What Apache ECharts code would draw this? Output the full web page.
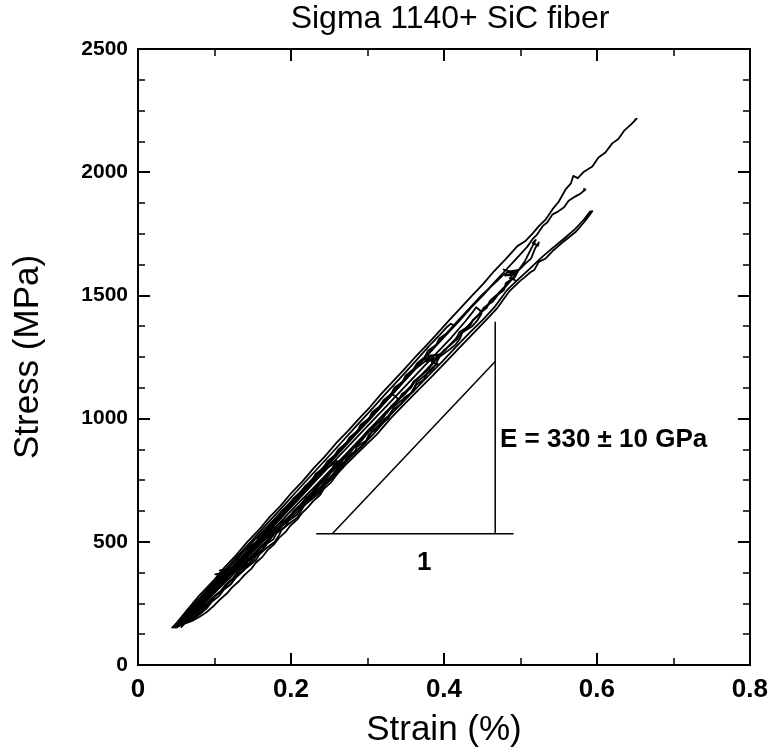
<!DOCTYPE html>
<html><head><meta charset="utf-8">
<script src="https://cdn.jsdelivr.net/npm/echarts@6/dist/echarts.min.js"></script>
<style>html,body{margin:0;padding:0;background:#fff}#c{width:771px;height:753px}</style>
</head><body><div id="c"></div>
<script>
// ---- data (strain %, stress MPa) ----
const xTickValues = [0, 0.2, 0.4, 0.6, 0.8];
const yTickValues = [0, 500, 1000, 1500, 2000, 2500];

const curveA = [[0.046,152],[0.050,168],[0.062,215],[0.080,282],[0.098,340],[0.112,392],[0.128,445],[0.143,500],[0.158,548],[0.172,600],[0.186,645],[0.201,700],[0.215,745],[0.230,800],[0.244,846],[0.259,900],[0.274,948],[0.289,1000],[0.303,1046],[0.318,1100],[0.333,1150],[0.348,1200],[0.362,1248],[0.378,1300],[0.392,1348],[0.407,1400],[0.421,1446],[0.437,1500],[0.451,1546],[0.466,1600],[0.481,1648],[0.496,1700],[0.507,1722],[0.516,1752],[0.524,1781],[0.533,1808],[0.542,1850],[0.550,1880],[0.559,1930],[0.566,1955],[0.569,1985],[0.575,1976],[0.583,2002],[0.594,2023],[0.602,2060],[0.611,2080],[0.620,2117],[0.628,2135],[0.636,2170],[0.645,2195],[0.652,2217],[0.649,2213]];

const curveB = [[0.048,150],[0.056,178],[0.072,230],[0.090,292],[0.108,352],[0.124,402],[0.140,455],[0.156,500],[0.171,552],[0.186,600],[0.200,650],[0.215,700],[0.230,748],[0.244,800],[0.259,850],[0.274,900],[0.288,950],[0.303,1000],[0.318,1052],[0.333,1100],[0.347,1150],[0.362,1200],[0.377,1252],[0.391,1300],[0.406,1350],[0.421,1400],[0.436,1452],[0.451,1500],[0.465,1550],[0.480,1600],[0.495,1650],[0.509,1698],[0.516,1729],[0.522,1748],[0.529,1781],[0.535,1796],[0.542,1829],[0.549,1840],[0.557,1858],[0.563,1884],[0.572,1902],[0.578,1912],[0.585,1930],[0.582,1932]];

const curveC = [[0.050,150],[0.060,180],[0.075,225],[0.092,280],[0.110,335],[0.128,385],[0.147,440],[0.165,495],[0.183,548],[0.201,600],[0.219,655],[0.238,710],[0.256,765],[0.274,820],[0.293,878],[0.312,935],[0.330,1000],[0.348,1058],[0.366,1115],[0.384,1170],[0.402,1228],[0.420,1287],[0.438,1345],[0.455,1400],[0.469,1446],[0.485,1515],[0.500,1560],[0.505,1572],[0.513,1594],[0.518,1603],[0.524,1636],[0.533,1650],[0.542,1680],[0.557,1720],[0.572,1757],[0.584,1800],[0.594,1842],
  [0.591,1840],[0.583,1808],[0.571,1768],[0.556,1728],[0.541,1690],[0.527,1652],[0.512,1608],[0.497,1565],[0.482,1520],[0.466,1452],[0.452,1405],[0.434,1350],[0.416,1292],[0.398,1232],[0.380,1175],[0.362,1118],[0.344,1060],[0.326,1002],[0.308,938],[0.290,880],[0.271,822],[0.253,768],[0.235,712],[0.216,655],[0.197,602],[0.180,550],[0.162,498],[0.144,442],[0.125,388],[0.107,338],[0.089,283],[0.072,230],[0.057,182],[0.048,155]];

const curveD = [[0.056,152],[0.072,205],[0.094,280],[0.118,360],[0.140,430],[0.163,505],[0.186,580],[0.209,655],[0.233,730],[0.256,805],[0.280,882],[0.303,958],[0.326,1032],[0.350,1110],[0.373,1185],[0.396,1262],[0.420,1338],[0.443,1415],[0.466,1492],[0.490,1570],[0.506,1640],[0.514,1690],[0.520,1725],[0.516,1712],[0.523,1702],
  [0.524,1715],[0.519,1690],[0.514,1650],[0.505,1625],[0.497,1600],[0.493,1575],[0.481,1550],[0.478,1520],[0.468,1500],[0.460,1478],[0.456,1450],[0.447,1428],[0.438,1400],[0.434,1375],[0.423,1350],[0.418,1325],[0.409,1300],[0.400,1278],[0.394,1250],[0.386,1228],[0.380,1200],[0.370,1175],[0.362,1150],[0.357,1125],[0.345,1100],[0.341,1075],[0.332,1050],[0.324,1027],[0.316,1000],[0.309,975],[0.301,950],[0.296,925],[0.286,900],[0.278,876],[0.272,850],[0.264,825],[0.257,800],[0.248,776],[0.242,750],[0.234,725],[0.228,700],[0.219,676],[0.213,650],[0.204,626],[0.198,600],[0.188,578],[0.184,550],[0.174,526],[0.168,500],[0.160,476],[0.154,450],[0.145,426],[0.139,400],[0.130,376],[0.124,350],[0.116,325],[0.110,300],[0.100,278],[0.094,250],[0.086,226],[0.078,200],[0.068,180],[0.058,165],[0.050,158]];

const curveE = [[0.050,155],[0.066,200],[0.096,300],[0.125,400],[0.155,500],[0.184,600],[0.213,700],[0.243,800],[0.272,900],[0.302,1000],[0.331,1100],[0.360,1200],[0.390,1300],[0.419,1400],[0.449,1500],[0.470,1560],[0.478,1585],[0.486,1598],[0.478,1605],[0.492,1592],[0.480,1580],[0.494,1585],[0.483,1596],[0.496,1603],[0.486,1570],[0.493,1562],
  [0.490,1570],[0.484,1548],[0.478,1525],[0.470,1500],[0.464,1475],[0.452,1450],[0.448,1425],[0.438,1400],[0.432,1375],[0.420,1350],[0.416,1325],[0.408,1300],[0.400,1275],[0.390,1250],[0.386,1225],[0.378,1200],[0.370,1175],[0.360,1150],[0.356,1125],[0.349,1100],[0.340,1075],[0.331,1050],[0.326,1025],[0.316,1000],[0.309,975],[0.300,950],[0.294,925],[0.286,900],[0.278,875],[0.272,850],[0.264,825],[0.257,800],[0.248,775],[0.242,750],[0.234,725],[0.227,700],[0.220,675],[0.212,650],[0.204,625],[0.198,600],[0.190,575],[0.183,550],[0.174,525],[0.168,500],[0.159,475],[0.154,450],[0.145,425],[0.139,400],[0.130,375],[0.124,350],[0.114,325],[0.108,300],[0.098,275],[0.090,250],[0.082,225],[0.074,200],[0.064,180],[0.054,165],[0.048,158]];

const curveF = [[0.053,156],[0.070,205],[0.098,300],[0.127,400],[0.157,500],[0.186,600],[0.215,700],[0.245,800],[0.274,900],[0.304,1000],[0.333,1100],[0.362,1200],[0.375,1232],[0.382,1252],[0.374,1240],[0.389,1246],[0.377,1232],[0.391,1240],[0.380,1255],[0.393,1260],[0.384,1228],[0.392,1222],
  [0.386,1210],[0.378,1185],[0.374,1160],[0.363,1135],[0.360,1110],[0.348,1085],[0.344,1060],[0.333,1035],[0.327,1010],[0.317,985],[0.313,960],[0.302,935],[0.298,910],[0.286,885],[0.283,860],[0.272,835],[0.268,810],[0.257,785],[0.253,760],[0.242,735],[0.238,710],[0.228,685],[0.222,660],[0.212,635],[0.208,610],[0.197,585],[0.192,560],[0.181,535],[0.177,510],[0.165,485],[0.161,460],[0.150,435],[0.145,410],[0.134,385],[0.129,360],[0.118,335],[0.113,310],[0.102,285],[0.097,260],[0.087,235],[0.080,210],[0.071,190],[0.063,175],[0.055,165],[0.049,157]];

const curveG = [[0.051,154],[0.072,210],[0.101,305],[0.130,405],[0.159,500],[0.188,600],[0.218,700],[0.247,800],[0.255,815],[0.263,808],[0.252,822],[0.266,815],[0.255,805],[0.268,812],[0.258,828],[0.270,822],[0.259,800],[0.266,796],
  [0.264,790],[0.258,765],[0.252,740],[0.243,715],[0.238,690],[0.229,665],[0.222,640],[0.214,615],[0.208,590],[0.199,565],[0.193,540],[0.184,515],[0.178,490],[0.169,465],[0.163,440],[0.154,415],[0.148,390],[0.139,365],[0.132,340],[0.123,315],[0.116,290],[0.107,265],[0.099,240],[0.090,215],[0.080,195],[0.070,178],[0.058,165],[0.050,158]];

const curveH = [[0.052,155],[0.074,210],[0.102,300],[0.131,400],[0.160,500],[0.168,530],[0.174,548],[0.163,540],[0.178,556],[0.166,535],[0.180,545],[0.168,556],[0.181,562],[0.170,530],[0.177,526],
  [0.178,530],[0.171,505],[0.166,480],[0.157,455],[0.152,430],[0.143,405],[0.137,380],[0.128,355],[0.122,330],[0.112,305],[0.106,280],[0.096,255],[0.090,230],[0.080,205],[0.070,185],[0.060,170],[0.051,160]];

const curveI = [[0.046,150],[0.060,195],[0.080,260],[0.100,330],[0.106,355],[0.112,372],[0.101,368],[0.116,378],[0.104,360],[0.119,370],[0.107,384],[0.118,390],[0.103,352],[0.114,358],
  [0.114,350],[0.107,330],[0.101,305],[0.093,285],[0.087,262],[0.079,240],[0.072,218],[0.064,196],[0.057,176],[0.050,162]];

const curveJ = [[0.049,153],[0.068,205],[0.094,290],[0.121,380],[0.150,475],[0.178,570],[0.206,662],[0.236,760],[0.265,855],[0.294,950],[0.323,1045],[0.352,1140],[0.381,1235],[0.410,1330],[0.428,1395],[0.437,1430],[0.442,1452],[0.447,1440],
  [0.449,1425],[0.444,1400],[0.437,1375],[0.424,1350],[0.421,1325],[0.415,1300],[0.405,1275],[0.394,1250],[0.390,1225],[0.385,1200],[0.375,1175],[0.365,1150],[0.361,1125],[0.356,1100],[0.345,1075],[0.335,1050],[0.331,1025],[0.327,1000],[0.316,975],[0.306,950],[0.302,925],[0.297,900],[0.287,875],[0.276,850],[0.272,825],[0.268,800],[0.257,775],[0.247,750],[0.243,725],[0.238,700],[0.228,675],[0.218,650],[0.213,625],[0.209,600],[0.198,575],[0.188,550],[0.184,525],[0.179,500],[0.168,475],[0.159,450],[0.154,425],[0.144,400],[0.134,375],[0.126,350],[0.120,325],[0.109,300],[0.099,275],[0.090,250],[0.080,225],[0.070,200],[0.060,180],[0.051,160]];

const curveK = [[0.044,150],[0.058,190],[0.080,265],[0.105,350],[0.132,440],[0.161,535],[0.189,628],[0.218,722],[0.246,815],[0.274,908],[0.300,995],[0.318,1055],[0.326,1085],[0.331,1100],[0.336,1092],
  [0.340,1080],[0.335,1055],[0.326,1030],[0.321,1005],[0.313,980],[0.305,955],[0.297,930],[0.291,905],[0.282,880],[0.276,855],[0.267,830],[0.261,805],[0.252,780],[0.246,755],[0.237,730],[0.231,705],[0.222,680],[0.216,655],[0.207,630],[0.200,605],[0.191,580],[0.185,555],[0.176,530],[0.170,505],[0.160,480],[0.154,455],[0.144,430],[0.138,405],[0.128,380],[0.121,355],[0.112,330],[0.104,305],[0.095,280],[0.087,255],[0.078,230],[0.069,205],[0.060,182],[0.051,162]];

const curveL = [[0.045,152],[0.055,185],[0.071,240],[0.090,305],[0.109,370],[0.128,435],[0.148,502],[0.167,568],[0.187,635],[0.206,700],[0.226,768],[0.245,832],[0.265,900],[0.284,965],[0.304,1032],[0.323,1098],[0.343,1165],[0.362,1230],[0.381,1296],[0.396,1345],[0.404,1372],[0.409,1385],
  [0.413,1378],[0.405,1350],[0.394,1325],[0.390,1300],[0.379,1275],[0.375,1250],[0.365,1225],[0.360,1200],[0.350,1175],[0.346,1150],[0.335,1125],[0.331,1100],[0.321,1075],[0.316,1050],[0.306,1025],[0.302,1000],[0.291,975],[0.287,950],[0.277,925],[0.272,900],[0.262,875],[0.257,850],[0.247,825],[0.243,800],[0.232,775],[0.228,750],[0.218,725],[0.213,700],[0.203,675],[0.199,650],[0.188,625],[0.184,600],[0.174,575],[0.169,550],[0.159,525],[0.155,500],[0.144,475],[0.140,450],[0.130,425],[0.125,400],[0.115,375],[0.110,350],[0.100,325],[0.096,300],[0.086,275],[0.081,250],[0.072,225],[0.066,200],[0.057,178],[0.050,160]];

// slope triangle (modulus annotation)
const triBase = [[0.233,533],[0.491,533]];
const triSide = [[0.467,533],[0.467,1393]];
const triHyp  = [[0.254,533],[0.467,1232]];

const curves = [curveA, curveB, curveC, curveD, curveE, curveF, curveG, curveH, curveI, curveJ, curveK, curveL];

const FONT = 'Liberation Sans, Arial, sans-serif';
const chart = echarts.init(document.getElementById('c'), null, {renderer:'canvas'});

function axisCommon(showLabel){
  return {
    type:'value',
    axisLine:{show:true, onZero:false, lineStyle:{color:'#000', width:2}},
    axisTick:{show:true, inside:true, length:12, lineStyle:{color:'#000', width:2}},
    splitLine:{show:false},
    axisLabel:{show:showLabel, color:'#000', fontWeight:'bold', fontSize:20, fontFamily:FONT},
  };
}

const series = curves.map(d => ({
  type:'line', data:d, showSymbol:false, symbol:'none',
  lineStyle:{color:'#000', width:1.8, join:'round'},
  animation:false, silent:true, clip:true
}));
[triBase, triSide, triHyp].forEach(d => series.push({
  type:'line', data:d, showSymbol:false, symbol:'none',
  lineStyle:{color:'#000', width:1.5}, animation:false, silent:true
}));

const option = {
  animation:false,
  backgroundColor:'#fff',
  title:{text:'Sigma 1140+ SiC fiber', left:445, top:-2, textAlign:'center',
    textStyle:{fontFamily:FONT, fontWeight:'normal', fontSize:32, color:'#000'}},
  grid:{left:138, right:14, top:49, bottom:85},
  xAxis:[
    Object.assign(axisCommon(true), {min:0, max:0.8, interval:0.2, position:'bottom',
      minorTick:{show:true, splitNumber:2, length:7, lineStyle:{color:'#000', width:1.5}},
      axisLabel:{color:'#000', fontWeight:'bold', fontSize:26, fontFamily:FONT, margin:12,
        formatter: v => xTickValues.includes(Math.round(v*10)/10) ? String(Math.round(v*10)/10) : ''},
      name:'Strain (%)', nameLocation:'middle', nameGap:48,
      nameTextStyle:{fontFamily:FONT, fontSize:35, color:'#000'}}),
    Object.assign(axisCommon(false), {min:0, max:0.8, interval:0.2, position:'top',
      minorTick:{show:true, splitNumber:2, length:7, lineStyle:{color:'#000', width:1.5}}})
  ],
  yAxis:[
    Object.assign(axisCommon(true), {min:0, max:2500, interval:500, position:'left',
      minorTick:{show:true, splitNumber:4, length:7, lineStyle:{color:'#000', width:1.5}},
      axisLabel:{color:'#000', fontWeight:'bold', fontSize:21, fontFamily:FONT, margin:10,
        formatter: v => yTickValues.includes(v) ? String(v) : ''},
      name:'Stress (MPa)', nameLocation:'middle', nameGap:92,
      nameTextStyle:{fontFamily:FONT, fontSize:35, color:'#000'}}),
    Object.assign(axisCommon(false), {min:0, max:2500, interval:500, position:'right',
      minorTick:{show:true, splitNumber:4, length:7, lineStyle:{color:'#000', width:1.5}}})
  ],
  series:series,
  graphic:[
    {type:'text', left:500, top:427, style:{text:'E = 330 ± 10 GPa', font:'bold 26px '+FONT, fill:'#000'}},
    {type:'text', left:417, top:550, style:{text:'1', font:'bold 26px '+FONT, fill:'#000'}}
  ]
};
chart.setOption(option);
</script></body></html>
